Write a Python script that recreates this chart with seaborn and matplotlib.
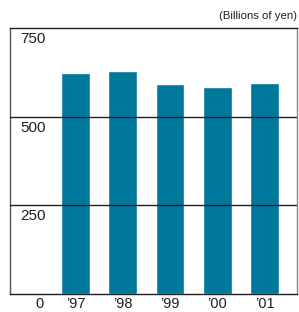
import matplotlib
matplotlib.use("Agg")
import matplotlib.pyplot as plt
import pandas as pd
import seaborn as sns

# Values (billions of yen)
years = ["\u201997", "\u201998", "\u201999", "\u201900", "\u201901"]
values = [624, 629, 593, 584, 596]
y_ticks = [250, 500, 750]

sns.set_style("white")
plt.rcParams['font.family'] = ['Liberation Sans Narrow', 'Liberation Sans', 'DejaVu Sans']

df = pd.DataFrame({"year": years, "value": values})

fig = plt.figure(figsize=(2.99, 3.12), dpi=100)
ax = fig.add_axes([9.5 / 299, 1 - 294 / 312, 287.5 / 299, 266 / 312])

sns.barplot(data=df, x="year", y="value", color="#00789c", saturation=1,
            width=0.61, ax=ax)

ax.set_xlim(-1.395, 4.687)
ax.set_ylim(0, 750)
ax.set_xlabel("")
ax.set_ylabel("")
ax.set_yticks([])
ax.tick_params(axis="x", length=0, pad=2, labelsize=10.5, colors="#231f20")

# grid lines drawn over the bars
for t in y_ticks[:-1]:
    ax.axhline(t, color="#231f20", linewidth=1, zorder=5)

for side, c in [("top", "#231f20"), ("bottom", "#231f20"),
                ("left", "#555555"), ("right", "#888888")]:
    ax.spines[side].set_visible(True)
    ax.spines[side].set_color(c)
    ax.spines[side].set_linewidth(1)

# y labels sit inside the plot, just under each line
for t in y_ticks:
    ax.annotate(str(t), xy=(0.037, t), xycoords=("axes fraction", "data"),
                xytext=(0, -3), textcoords="offset points",
                ha="left", va="top", fontsize=11, color="#231f20")
ax.annotate("0", xy=(0.105, 0), xycoords=("axes fraction", "data"),
            xytext=(0, -2), textcoords="offset points",
            ha="center", va="top", fontsize=10.5, color="#231f20")

fig.text(297 / 299, 1 - 16 / 312, "(Billions of yen)", ha="right", va="center",
         fontsize=8.2, color="#231f20")

fig.savefig("out.png", dpi=100)
